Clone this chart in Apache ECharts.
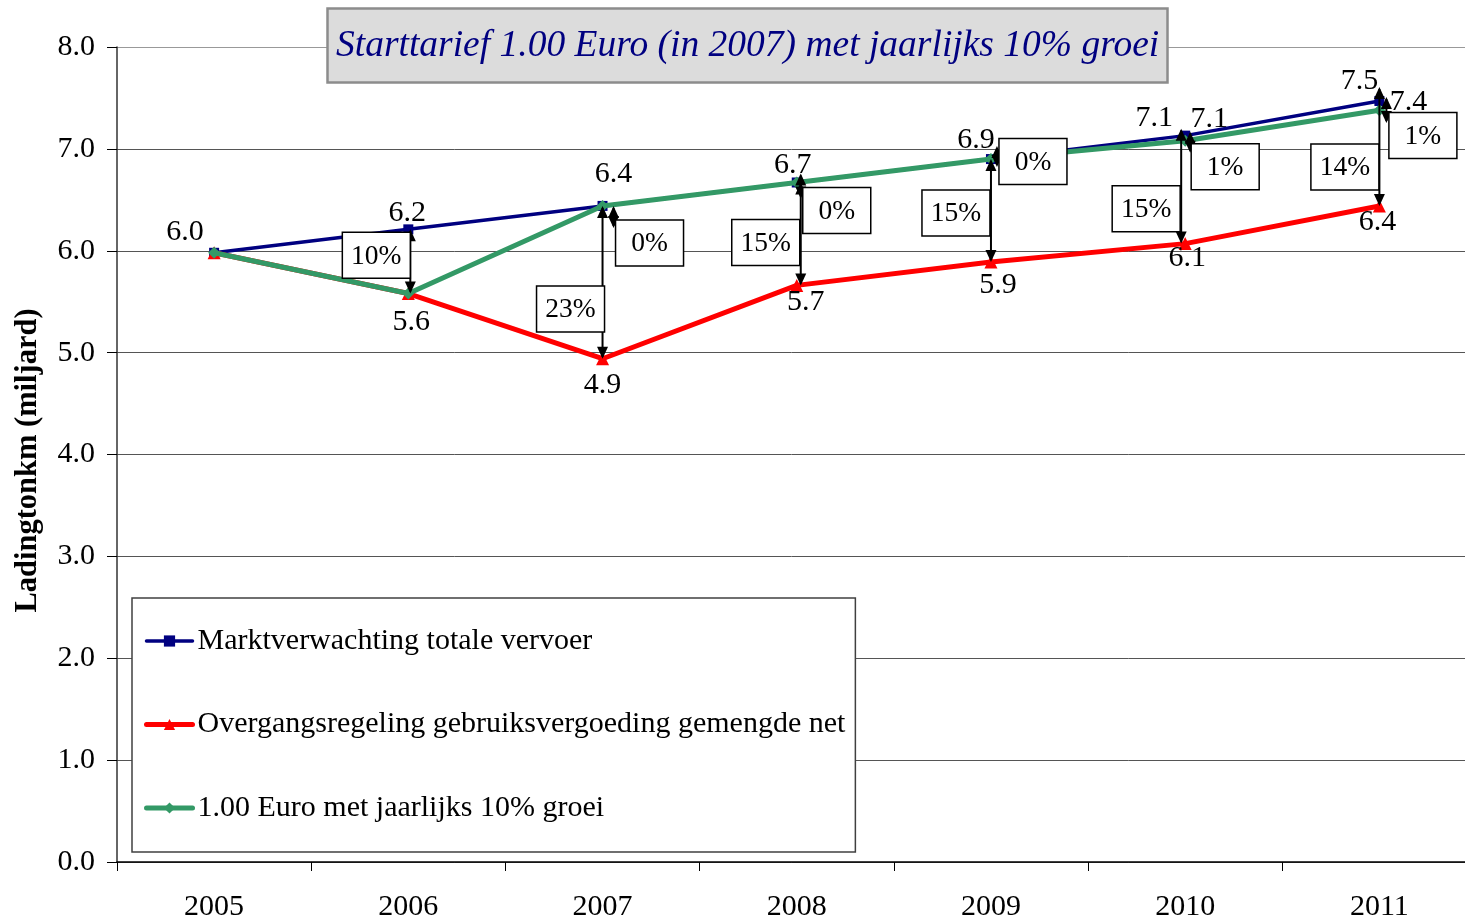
<!DOCTYPE html>
<html><head><meta charset="utf-8">
<script src="https://cdn.jsdelivr.net/npm/echarts@6/dist/echarts.min.js"></script>
<style>html,body{margin:0;padding:0;background:#fff}#c{width:1465px;height:920px}</style>
</head><body><div id="c"></div>
<script>
// ---- data ----
const years = ['2005', '2006', '2007', '2008', '2009', '2010', '2011'];
const markt = [5.98, 6.21, 6.44, 6.67, 6.90, 7.13, 7.47];
const overgang = [5.98, 5.58, 4.94, 5.66, 5.89, 6.07, 6.44];
const euro = [5.98, 5.58, 6.44, 6.67, 6.90, 7.08, 7.38];
const yTickLabels = ['0.0', '1.0', '2.0', '3.0', '4.0', '5.0', '6.0', '7.0', '8.0'];
const gapMarktOvergang = ['', '10%', '23%', '15%', '15%', '15%', '14%'];
const gapMarktEuro = ['', '', '0%', '0%', '0%', '1%', '1%'];
const seriesNames = ['Marktverwachting totale vervoer', 'Overgangsregeling gebruiksvergoeding gemengde net', '1.00 Euro met jaarlijks 10% groei'];
const titleText = 'Starttarief 1.00 Euro (in 2007) met jaarlijks 10% groei';
const yAxisName = 'Ladingtonkm (miljard)';

// ---- styling / layout (pixels) ----
const FONT = '"Liberation Serif", "Times New Roman", serif';
const FS = 30;
const blueOff = [[-29, -21], [-1, -16], [11, -32], [-4, -17], [-15, -19], [-31, -18], [-20, -20]];
const redOff = [null, [3, 29], [0, 26], [9, 17], [7, 23], [2, 15], [-2, 16]];
const greenOff = [null, null, null, null, null, [24, -22], [29, -8]];
const annot = [
  null,
  { bigDx: 2, bigTop: 0, left: [-32, 26], small: null, right: null },
  { bigDx: 0, bigTop: 0, left: [-32, 103], small: [11, 0, 22], right: [47, 37] },
  { bigDx: 4, bigTop: 0, left: [-31, 60], small: [4, -9, 16], right: [40, 28] },
  { bigDx: 0, bigTop: 0, left: [-35, 54], small: [6, -13, 8], right: [42, 2.5] },
  { bigDx: -4, bigTop: -7, left: [-39, 73], small: [5, -4, 17], right: [40, 31] },
  { bigDx: 0, bigTop: -14, left: [-34.5, 66], small: [7, -4, 22], right: [43.5, 34.5] }
];

function mkData(vals, offs) {
  return vals.map((v, i) => ({
    value: v,
    label: offs[i] ? { show: true, offset: offs[i] } : { show: false }
  }));
}
const lblBase = { show: true, position: 'inside', fontSize: FS, fontFamily: FONT, color: '#000',
  formatter: p => Number(p.value).toFixed(1) };

function arrow(x, y1, y2, ch) {
  const h = 12, w = 5.5;
  ch.push({ type: 'line', shape: { x1: x, y1: y1 + 2, x2: x, y2: y2 - 2 }, style: { stroke: '#000', lineWidth: 2 } });
  ch.push({ type: 'polygon', shape: { points: [[x, y1], [x - w, y1 + h], [x + w, y1 + h]] }, style: { fill: '#000' } });
  ch.push({ type: 'polygon', shape: { points: [[x, y2], [x - w, y2 - h], [x + w, y2 - h]] }, style: { fill: '#000' } });
}
function box(cx, cy, text, ch) {
  const bw = 68, bh = 46;
  ch.push({ type: 'rect', shape: { x: cx - bw / 2, y: cy - bh / 2, width: bw, height: bh },
    style: { fill: '#fff', stroke: '#000', lineWidth: 1.5 } });
  ch.push({ type: 'text', style: { x: cx, y: cy + 1, text: text, fill: '#000', align: 'center', verticalAlign: 'middle',
    fontSize: 27.5, fontFamily: FONT } });
}

const chart = echarts.init(document.getElementById('c'), null, { renderer: 'canvas' });
chart.setOption({
  animation: false,
  backgroundColor: '#fff',
  title: {
    text: titleText, left: 327, top: 8,
    backgroundColor: '#dcdcdc', borderColor: '#8c8c8c', borderWidth: 2.5,
    padding: [17, 9, 16, 9],
    textStyle: { fontFamily: FONT, fontStyle: 'italic', fontWeight: 'normal', fontSize: 37.5, color: '#000080', lineHeight: 42 }
  },
  grid: { left: 117, right: -11.5, top: 47, bottom: 58, containLabel: false, outerBoundsMode: 'none' },
  legend: {
    orient: 'vertical', left: 132, top: 598,
    data: [
      { name: seriesNames[0], lineStyle: { width: 3.5, cap: 'round' } },
      { name: seriesNames[1], lineStyle: { width: 5, cap: 'round' } },
      { name: seriesNames[2], lineStyle: { width: 5, cap: 'round' } }
    ],
    backgroundColor: '#fff', borderColor: '#404040', borderWidth: 1.5,
    padding: [28, 10, 29, 12],
    itemWidth: 46, itemHeight: 14, itemGap: 53.5,
    textStyle: { fontFamily: FONT, fontSize: FS, color: '#000', lineHeight: 28 }
  },
  xAxis: {
    type: 'category', data: years, boundaryGap: true,
    axisLine: { lineStyle: { color: '#000', width: 1.5 } },
    axisTick: { show: true, length: 9, lineStyle: { color: '#000', width: 1 } },
    axisLabel: { fontFamily: FONT, fontSize: FS, color: '#000', margin: 30 },
    splitLine: { show: false }
  },
  yAxis: {
    type: 'value', min: 0, max: 8, interval: 1,
    name: yAxisName, nameLocation: 'middle', nameGap: 73, nameRotate: 90,
    nameTextStyle: { fontFamily: FONT, fontSize: 30.5, fontWeight: 'bold', color: '#000', padding: [0, 12, 0, 0] },
    axisLine: { show: true, lineStyle: { color: '#333', width: 1.5 } },
    axisTick: { show: true, length: 10, lineStyle: { color: '#000', width: 1 } },
    axisLabel: { fontFamily: FONT, fontSize: FS, color: '#000', margin: 22,
      formatter: v => yTickLabels[Math.round(v)] },
    splitLine: { show: true, lineStyle: { color: ['#555', '#555', '#555', '#555', '#555', '#555', '#555', '#555', '#999'], width: 1 } }
  },
  series: [
    { name: seriesNames[0], type: 'line', data: mkData(markt, blueOff), z: 3,
      symbol: 'rect', symbolSize: 10, color: '#000080',
      lineStyle: { color: '#000080', width: 3.5 }, itemStyle: { color: '#000080' },
      label: lblBase },
    { name: seriesNames[1], type: 'line', data: mkData(overgang, redOff), z: 4,
      symbol: 'triangle', symbolSize: 13, color: '#ff0000',
      lineStyle: { color: '#ff0000', width: 5 }, itemStyle: { color: '#ff0000' },
      label: lblBase },
    { name: seriesNames[2], type: 'line', data: mkData(euro, greenOff), z: 5,
      symbol: 'diamond', symbolSize: 12, color: '#339966',
      lineStyle: { color: '#339966', width: 5 }, itemStyle: { color: '#339966' },
      label: lblBase },
    { name: 'annot', type: 'custom', z: 8, silent: true, clip: false,
      data: years.map((y, i) => [i, markt[i], overgang[i], euro[i]]),
      encode: { x: 0, y: 1 },
      renderItem: function (params, api) {
        const i = api.value(0);
        const L = annot[i];
        const ch = [];
        if (L) {
          const pB = api.coord([i, api.value(1)]);
          const pR = api.coord([i, api.value(2)]);
          arrow(pB[0] + L.bigDx, pB[1] + L.bigTop, pR[1], ch);
          if (L.small) arrow(pB[0] + L.small[0], pB[1] + L.small[1], pB[1] + L.small[2], ch);
          if (L.left) box(pB[0] + L.left[0], pB[1] + L.left[1], gapMarktOvergang[i], ch);
          if (L.right) box(pB[0] + L.right[0], pB[1] + L.right[1], gapMarktEuro[i], ch);
        }
        return { type: 'group', children: ch };
      }
    }
  ]
});
</script>
</body></html>
